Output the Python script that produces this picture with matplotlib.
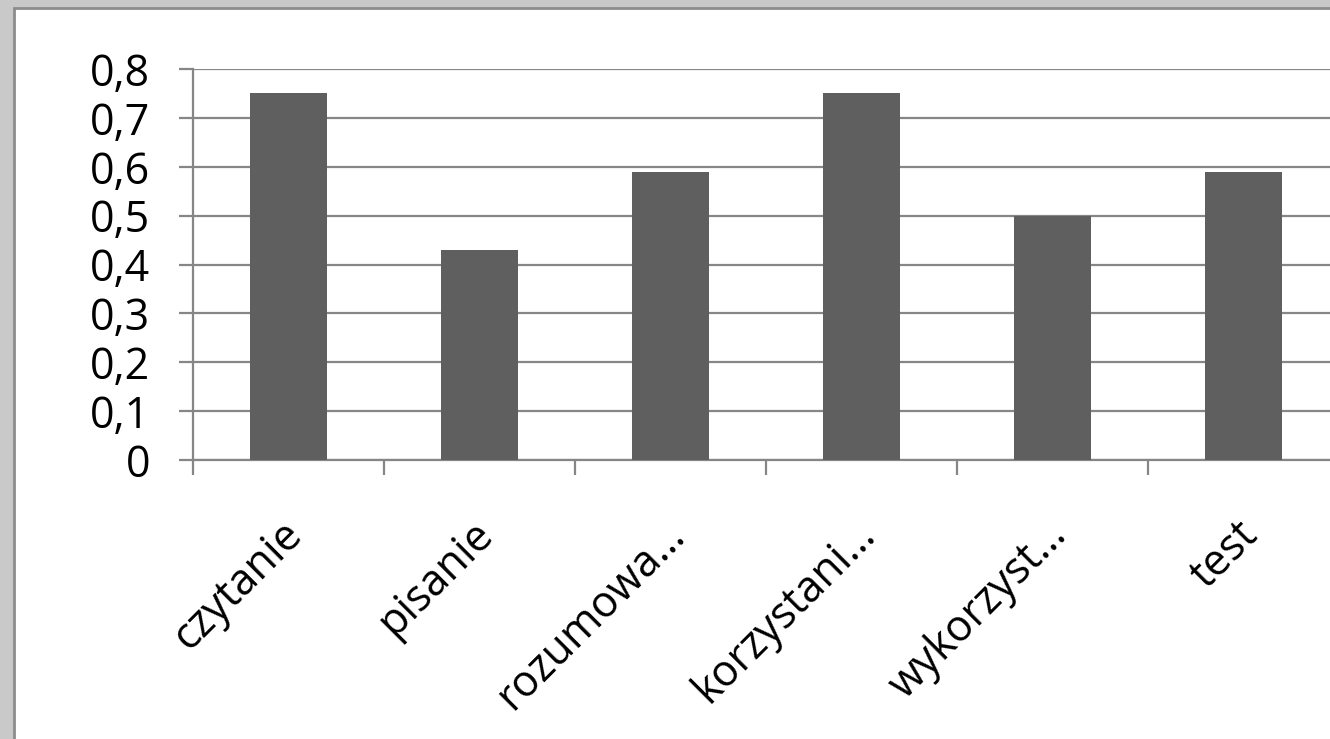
import matplotlib.pyplot as plt
import matplotlib.transforms as mtransforms
from matplotlib.patches import Rectangle

# Data
categories = ['czytanie', 'pisanie', 'rozumowa…', 'korzystani…', 'wykorzyst…', 'test']
values = [0.75, 0.43, 0.59, 0.75, 0.50, 0.59]
yticks = [0, 0.1, 0.2, 0.3, 0.4, 0.5, 0.6, 0.7, 0.8]
ytick_labels = ['0', '0,1', '0,2', '0,3', '0,4', '0,5', '0,6', '0,7', '0,8']

W, H = 1330, 739
fig = plt.figure(figsize=(W / 100, H / 100), dpi=100)
fig.patch.set_facecolor('#c9c9c9')

# white panel with dark edge (extends past right and bottom)
fig.patches.append(Rectangle((14 / W, -0.1), 1.2, 1 - 8 / H + 0.1, transform=fig.transFigure,
                             facecolor='white', edgecolor='#8c8c8c', linewidth=2, zorder=-5))

# axes: left at 193px, 0 at y=460, 0.8 at y=69, each category ~191px
left = 193 / W
bottom = 1 - 460 / H
width = 6 * 191 / W
height = (460 - 69) / H
ax = fig.add_axes([left, bottom, width, height])
ax.set_facecolor('none')
ax.set_zorder(5)

x = [i + 0.5 for i in range(len(categories))]
ax.bar(x, values, width=0.4, color='#5f5f5f', zorder=3)

ax.set_xlim(0, len(categories))
ax.set_ylim(0, 0.8)
ax.set_yticks(yticks)
ax.set_yticklabels(ytick_labels)
ax.yaxis.grid(True, color='#868686', linewidth=1.6)
ax.set_axisbelow(True)

ax.set_xticks(range(len(categories) + 1))
ax.set_xticklabels([])
ax.set_xticks(x, minor=True)
ax.set_xticklabels(categories, minor=True, rotation=45, ha='right', rotation_mode='anchor')
ax.tick_params(axis='x', which='minor', length=0, pad=38, labelsize=31)
ax.tick_params(axis='x', which='major', length=11, width=1.6, color='#868686')
ax.tick_params(axis='y', length=10, width=1.6, color='#868686', labelsize=31, pad=21)

shift = mtransforms.ScaledTranslation(-8 / 100, 0, fig.dpi_scale_trans)
for lbl in ax.get_xticklabels(minor=True):
    lbl.set_transform(lbl.get_transform() + shift)
for lbl in ax.get_xticklabels(minor=True) + ax.get_yticklabels():
    lbl.set_fontfamily('Open Sans')

for s in ['top', 'right']:
    ax.spines[s].set_visible(False)
for s in ['left', 'bottom']:
    ax.spines[s].set_color('#868686')
    ax.spines[s].set_linewidth(1.6)

fig.savefig('out.png', dpi=100, facecolor=fig.get_facecolor())
